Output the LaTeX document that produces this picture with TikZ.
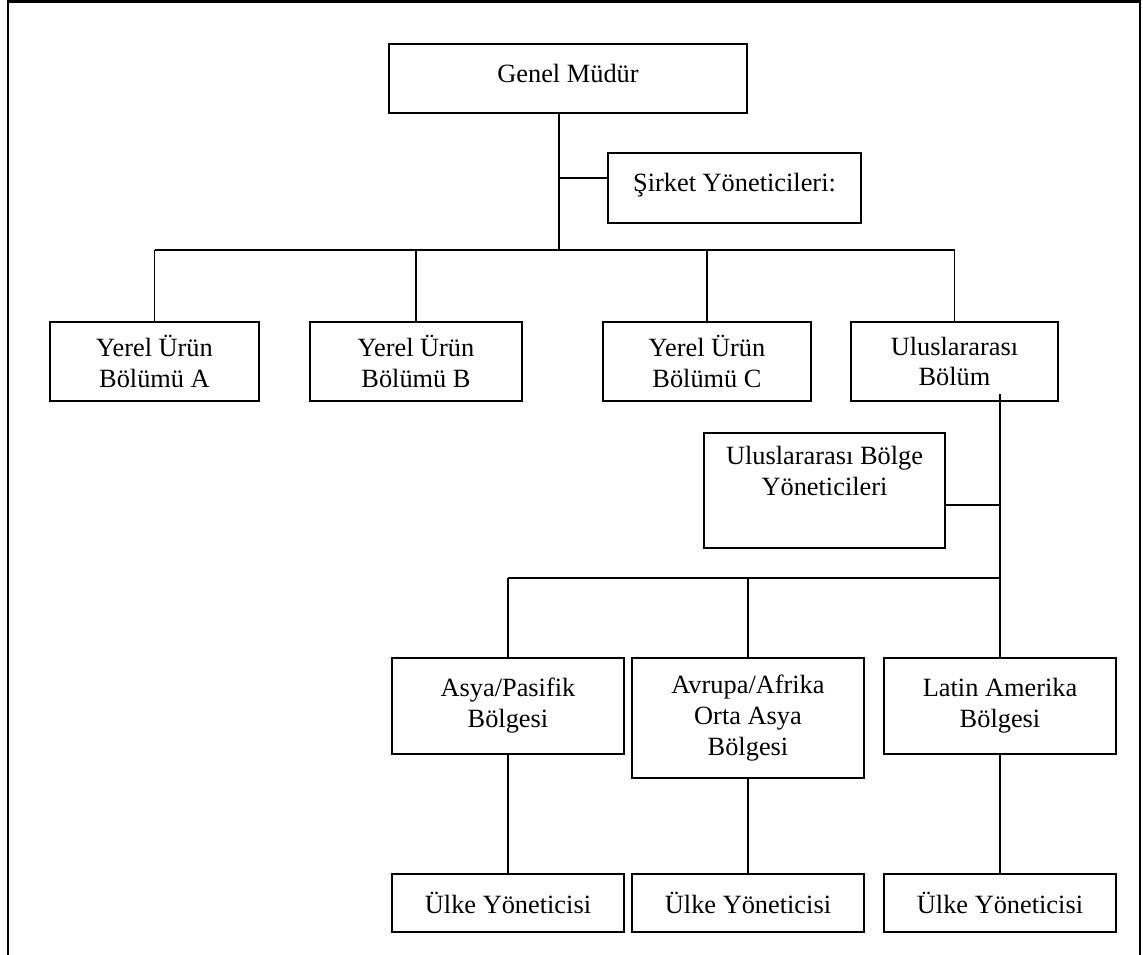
\documentclass[tikz,border=0pt]{standalone}
\usepackage{fontspec}
\setmainfont{Liberation Serif}
\usetikzlibrary{positioning}

\begin{document}
\begin{tikzpicture}[
  x=0.02cm, y=-0.02cm,
  font=\fontsize{15pt}{17.6pt}\selectfont,
  box/.style={draw,align=center,inner sep=0pt,line width=1.1pt},
  unit/.style={box,minimum width=4.18cm,minimum height=1.58cm},
  region/.style={box,minimum width=4.64cm,minimum height=1.92cm},
  country/.style={box,minimum width=4.64cm,minimum height=1.16cm},
  link/.style={line width=1.1pt}
]
\useasboundingbox (0,0) rectangle (1143,955);
\draw[line width=1.2pt] (8,955) -- (8,1.5) -- (1140,1.5) -- (1140,955);

\node[box,minimum width=7.16cm,minimum height=1.38cm,text depth=6pt] (gm) at (568,78.5) {Genel Müdür};
\node[box,minimum width=5.06cm,minimum height=1.40cm,text depth=6pt] (sy) at (734.5,188) {Şirket Yöneticileri:};

\node[unit] (ua) at (154.5,361.5) {Yerel Ürün\\ Bölümü A};
\node[unit,minimum width=4.24cm] (ub) at (416,361.5) {Yerel Ürün\\ Bölümü B};
\node[unit,minimum width=4.16cm] (uc) at (707,361.5) {Yerel Ürün\\ Bölümü C};
\node[unit,minimum width=4.14cm] (ui) at (954.5,361.5) {Uluslararası\\ Bölüm};

\node[box,minimum width=4.82cm,minimum height=2.30cm] (uby) at (824.5,490.5) {Uluslararası Bölge\\ Yöneticileri\\ \strut};

\node[region] (asya) at (508,706) {Asya/Pasifik\\ Bölgesi};
\node[region,minimum height=2.40cm] (avr) at (748,718) {Avrupa/Afrika\\ Orta Asya\\ Bölgesi};
\node[region] (lat) at (1000,706) {Latin Amerika\\ Bölgesi};

\node[country] (c1) at (508,903) {Ülke Yöneticisi};
\node[country] (c2) at (748,903) {Ülke Yöneticisi};
\node[country] (c3) at (1000,903) {Ülke Yöneticisi};

\coordinate (j1) at (559,250);
\coordinate (js) at (559,178);
\coordinate (j2) at (1000,505);
\coordinate (j3) at (1000,578);

\draw[link] (gm.south -| j1) -- (j1);
\draw[link] (js) -- (js -| sy.west);
\draw[link] (ua.north |- j1) -- (ui.north |- j1);
\draw[link] (ua.north |- j1) -- (ua.north);
\draw[link] (ub.north |- j1) -- (ub.north);
\draw[link] (uc.north |- j1) -- (uc.north);
\draw[link] (ui.north |- j1) -- (ui.north);

\draw[link] ([yshift=0.16cm]ui.south -| lat.north) -- (lat.north);
\draw[link] (j2 -| uby.east) -- (j2);
\draw[link] (asya.north |- j3) -- (j3);
\draw[link] (asya.north |- j3) -- (asya.north);
\draw[link] (avr.north |- j3) -- (avr.north);

\draw[link] (asya.south) -- (c1.north);
\draw[link] (avr.south) -- (c2.north);
\draw[link] (lat.south) -- (c3.north);
\end{tikzpicture}
\end{document}
